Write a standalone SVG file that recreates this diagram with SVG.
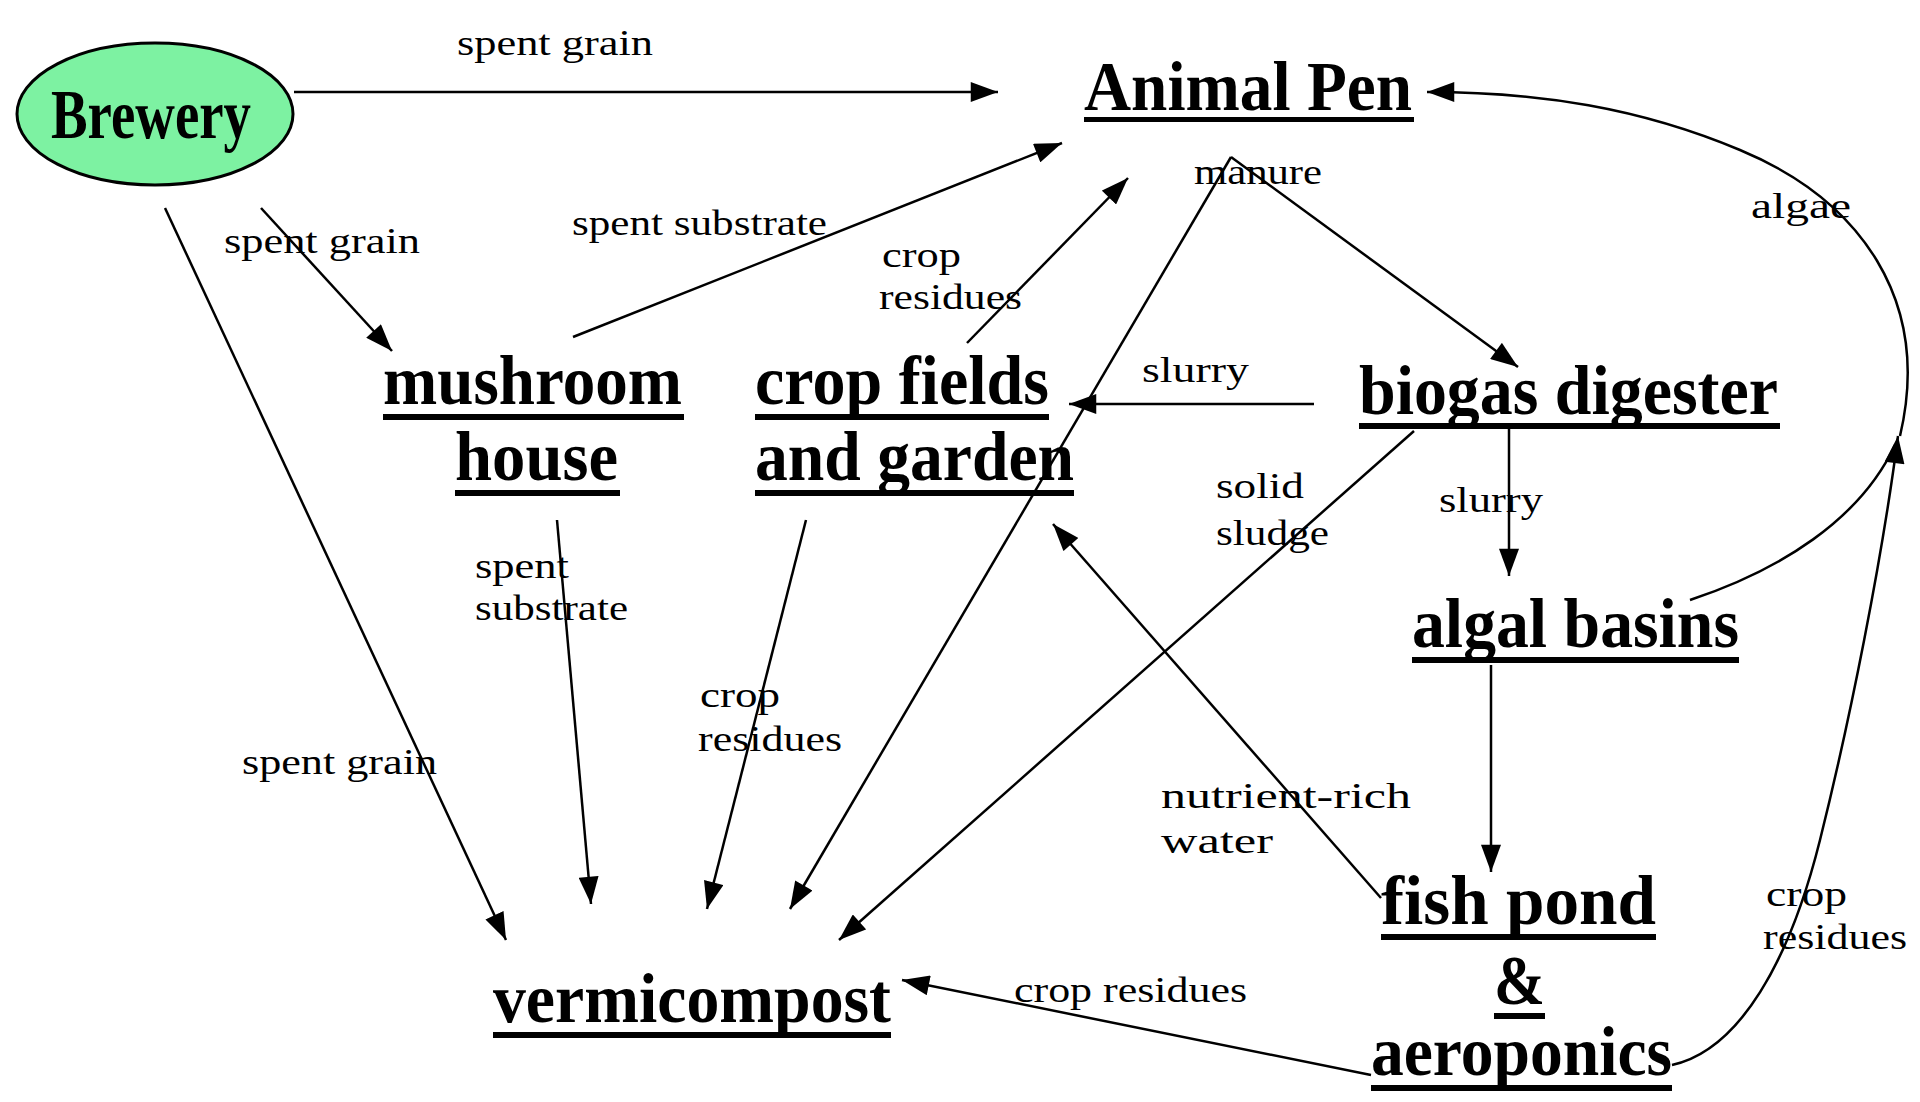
<svg xmlns="http://www.w3.org/2000/svg" width="1920" height="1102" viewBox="0 0 1920 1102">
<defs>
<style>
.node{font-family:"Liberation Serif","Times New Roman",serif;font-weight:bold;font-size:70px;fill:#000}
.lbl{font-family:"Liberation Serif","Times New Roman",serif;font-size:36px;fill:#000}
.ul{fill:#000}
.edge{fill:none;stroke:#000;stroke-width:2.5}
</style>
<marker id="ah" viewBox="0 0 30 22" refX="30" refY="11" markerWidth="28" markerHeight="20" markerUnits="userSpaceOnUse" orient="auto">
<path d="M0,0 L30,11 L0,22 Z" fill="#000"/>
</marker>
</defs>
<rect width="1920" height="1102" fill="#fff"/>

<g id="connectors">
<line class="edge" x1="294" y1="92" x2="998" y2="92" marker-end="url(#ah)"/>
<line class="edge" x1="261" y1="208" x2="392" y2="351" marker-end="url(#ah)"/>
<line class="edge" x1="165" y1="208" x2="506" y2="940" marker-end="url(#ah)"/>
<line class="edge" x1="573" y1="337" x2="1062" y2="143" marker-end="url(#ah)"/>
<line class="edge" x1="967" y1="343" x2="1128" y2="178" marker-end="url(#ah)"/>
<polyline class="edge" points="1231,157 790,909" marker-end="url(#ah)"/>
<polyline class="edge" points="1231,157 1518,367" marker-end="url(#ah)"/>
<line class="edge" x1="1314" y1="404" x2="1069" y2="404" marker-end="url(#ah)"/>
<line class="edge" x1="1414" y1="431" x2="839" y2="940" marker-end="url(#ah)"/>
<line class="edge" x1="1509" y1="429" x2="1509" y2="576" marker-end="url(#ah)"/>
<line class="edge" x1="1491" y1="665" x2="1491" y2="872" marker-end="url(#ah)"/>
<line class="edge" x1="1381" y1="898" x2="1053" y2="524" marker-end="url(#ah)"/>
<line class="edge" x1="557" y1="520" x2="591" y2="904" marker-end="url(#ah)"/>
<line class="edge" x1="806" y1="520" x2="707" y2="909" marker-end="url(#ah)"/>
<line class="edge" x1="1371" y1="1075" x2="902" y2="980" marker-end="url(#ah)"/>
<path class="edge" d="M1672,1065 C1740,1050 1790,960 1820,840 S1882,560 1898,436" marker-end="url(#ah)"/>
<path class="edge" d="M1690,600 C1780,570 1860,520 1895,445"/>
<path class="edge" d="M1900,436 C1932,300 1860,200 1740,150 C1640,108 1540,92 1427,92" marker-end="url(#ah)"/>
</g>

<g id="brewery">
<ellipse cx="155" cy="114" rx="138" ry="71" fill="#7df2a2" stroke="#000" stroke-width="3"/>
<text class="node" x="51" y="138" font-size="58" textLength="200" lengthAdjust="spacingAndGlyphs">Brewery</text>
</g>

<g id="animal-pen">
<text class="node" x="1084" y="110" textLength="328" lengthAdjust="spacingAndGlyphs">Animal Pen</text>
<rect class="ul" x="1084" y="117" width="330" height="5"/>
</g>

<g id="mushroom-house">
<text class="node" x="383" y="404" textLength="299" lengthAdjust="spacingAndGlyphs">mushroom</text>
<rect class="ul" x="383" y="414" width="301" height="6"/>
<text class="node" x="455" y="480" textLength="163" lengthAdjust="spacingAndGlyphs">house</text>
<rect class="ul" x="455" y="490" width="165" height="6"/>
</g>

<g id="crop-fields">
<text class="node" x="755" y="404" textLength="294" lengthAdjust="spacingAndGlyphs">crop fields</text>
<rect class="ul" x="755" y="414" width="294" height="6"/>
<text class="node" x="755" y="480" textLength="319" lengthAdjust="spacingAndGlyphs">and garden</text>
<rect class="ul" x="755" y="490" width="319" height="6"/>
</g>

<g id="biogas-digester">
<text class="node" x="1359" y="414" textLength="419" lengthAdjust="spacingAndGlyphs">biogas digester</text>
<rect class="ul" x="1359" y="423" width="421" height="6"/>
</g>

<g id="algal-basins">
<text class="node" x="1412" y="647" textLength="327" lengthAdjust="spacingAndGlyphs">algal basins</text>
<rect class="ul" x="1412" y="657" width="327" height="6"/>
</g>

<g id="fish-pond">
<text class="node" x="1381" y="924" textLength="275" lengthAdjust="spacingAndGlyphs">fish pond</text>
<rect class="ul" x="1381" y="934" width="275" height="6"/>
<text class="node" x="1494" y="1004" textLength="51" lengthAdjust="spacingAndGlyphs">&amp;</text>
<rect class="ul" x="1494" y="1013" width="51" height="6"/>
<text class="node" x="1371" y="1075" textLength="301" lengthAdjust="spacingAndGlyphs">aeroponics</text>
<rect class="ul" x="1371" y="1085" width="301" height="6"/>
</g>

<g id="vermicompost">
<text class="node" x="493" y="1022" textLength="398" lengthAdjust="spacingAndGlyphs">vermicompost</text>
<rect class="ul" x="493" y="1032" width="398" height="6"/>
</g>

<g id="labels">
<text class="lbl" x="457" y="55" textLength="196" lengthAdjust="spacingAndGlyphs">spent grain</text>
<text class="lbl" x="224" y="253" textLength="196" lengthAdjust="spacingAndGlyphs">spent grain</text>
<text class="lbl" x="572" y="235" textLength="255" lengthAdjust="spacingAndGlyphs">spent substrate</text>
<text class="lbl" x="882" y="267" textLength="79" lengthAdjust="spacingAndGlyphs">crop</text>
<text class="lbl" x="879" y="309" textLength="143" lengthAdjust="spacingAndGlyphs">residues</text>
<text class="lbl" x="1194" y="184" textLength="128" lengthAdjust="spacingAndGlyphs">manure</text>
<text class="lbl" x="1751" y="218" textLength="100" lengthAdjust="spacingAndGlyphs">algae</text>
<text class="lbl" x="1142" y="382" textLength="107" lengthAdjust="spacingAndGlyphs">slurry</text>
<text class="lbl" x="1216" y="498" textLength="88" lengthAdjust="spacingAndGlyphs">solid</text>
<text class="lbl" x="1216" y="545" textLength="113" lengthAdjust="spacingAndGlyphs">sludge</text>
<text class="lbl" x="1439" y="512" textLength="104" lengthAdjust="spacingAndGlyphs">slurry</text>
<text class="lbl" x="475" y="578" textLength="94" lengthAdjust="spacingAndGlyphs">spent</text>
<text class="lbl" x="475" y="620" textLength="153" lengthAdjust="spacingAndGlyphs">substrate</text>
<text class="lbl" x="700" y="707" textLength="80" lengthAdjust="spacingAndGlyphs">crop</text>
<text class="lbl" x="698" y="751" textLength="144" lengthAdjust="spacingAndGlyphs">residues</text>
<text class="lbl" x="242" y="774" textLength="195" lengthAdjust="spacingAndGlyphs">spent grain</text>
<text class="lbl" x="1161" y="808" textLength="250" lengthAdjust="spacingAndGlyphs">nutrient-rich</text>
<text class="lbl" x="1161" y="853" textLength="112" lengthAdjust="spacingAndGlyphs">water</text>
<text class="lbl" x="1014" y="1002" textLength="233" lengthAdjust="spacingAndGlyphs">crop residues</text>
<text class="lbl" x="1766" y="906" textLength="81" lengthAdjust="spacingAndGlyphs">crop</text>
<text class="lbl" x="1763" y="949" textLength="144" lengthAdjust="spacingAndGlyphs">residues</text>
</g>
</svg>
